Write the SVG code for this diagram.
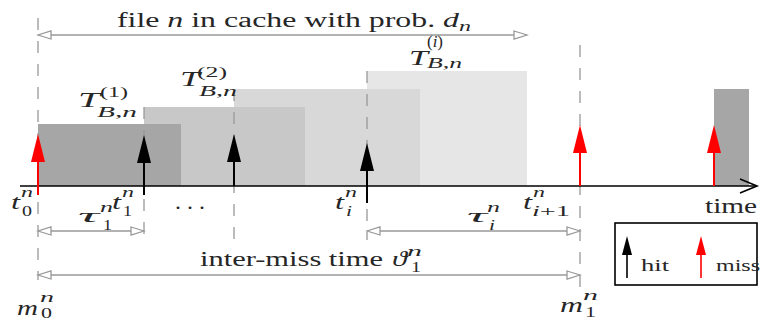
<svg xmlns="http://www.w3.org/2000/svg" width="760" height="324" viewBox="0 0 760 324">
<style>
.t { font-family: "Liberation Serif", "DejaVu Serif", serif; fill: #262626; }
.it { font-style: italic; }
.dash { stroke: #999; stroke-width: 1.3; stroke-dasharray: 12 11; fill: none; }
.dim { stroke: #999; stroke-width: 1.6; fill: none; marker-start: url(#open); marker-end: url(#open); }
.ak { stroke: #000; stroke-width: 2; marker-end: url(#hk); }
.ar { stroke: #f00; stroke-width: 2; marker-end: url(#hr); }
</style>
<defs>
<marker id="hk" markerUnits="userSpaceOnUse" viewBox="0 -7 28 14" refX="0" refY="0" markerWidth="28" markerHeight="14" orient="auto"><path d="M0,-7 L28,0 L0,7 z" fill="#000"/></marker>
<marker id="hr" markerUnits="userSpaceOnUse" viewBox="0 -7 28 14" refX="0" refY="0" markerWidth="28" markerHeight="14" orient="auto"><path d="M0,-7 L28,0 L0,7 z" fill="#f00"/></marker>
<marker id="hks" markerUnits="userSpaceOnUse" viewBox="0 -5 19 10" refX="0" refY="0" markerWidth="19" markerHeight="10" orient="auto"><path d="M0,-5 L19,0 L0,5 z" fill="#000"/></marker>
<marker id="hrs" markerUnits="userSpaceOnUse" viewBox="0 -5 19 10" refX="0" refY="0" markerWidth="19" markerHeight="10" orient="auto"><path d="M0,-5 L19,0 L0,5 z" fill="#f00"/></marker>
<marker id="open" markerUnits="userSpaceOnUse" viewBox="-2 -6 17 12" refX="13" refY="0" markerWidth="17" markerHeight="12" orient="auto-start-reverse"><path d="M0,-4 L13,0 L0,4 z" fill="#fff" stroke="#999" stroke-width="1.3"/></marker>
</defs>

<g id="blocks">
<rect id="T4" x="367" y="71" width="160" height="115" fill="#e6e6e6"/>
<rect id="T3" x="234" y="89" width="186" height="97" fill="#d8d8d8"/>
<rect id="T2" x="144" y="107" width="161" height="79" fill="#c8c8c8"/>
<rect id="T1" x="38" y="124" width="143" height="62" fill="#a6a6a6"/>
<rect id="Tnext" x="714" y="89" width="35" height="97" fill="#a6a6a6"/>
</g>

<g id="guides">
<line class="dash" x1="38" y1="18" x2="38" y2="280"/>
<line class="dash" x1="144" y1="107" x2="144" y2="245"/>
<line class="dash" x1="234" y1="89" x2="234" y2="242"/>
<line class="dash" x1="367" y1="71" x2="367" y2="240"/>
<line class="dash" x1="580" y1="45" x2="580" y2="298"/>
</g>

<g id="axis">
<line x1="20" y1="186" x2="757" y2="186" stroke="#000" stroke-width="1.6"/>
<polyline points="740,179 757,186 740,193" fill="none" stroke="#000" stroke-width="1.6"/>
</g>

<g id="connectors">
<line class="ar" x1="38" y1="195" x2="38" y2="162"/>
<line class="ak" x1="144" y1="195" x2="144" y2="163"/>
<line class="ak" x1="234" y1="186" x2="234" y2="162"/>
<line class="ak" x1="367" y1="203" x2="367" y2="171"/>
<line class="ar" x1="580" y1="186" x2="580" y2="153"/>
<line class="ar" x1="714" y1="186" x2="714" y2="153"/>
<line class="dim" x1="38" y1="35" x2="527" y2="35"/>
<line class="dim" x1="38" y1="231" x2="144" y2="231"/>
<line class="dim" x1="367" y1="231" x2="580" y2="231"/>
<line class="dim" x1="38" y1="275" x2="580" y2="275"/>
</g>

<g id="labels">
<text class="t" x="117" y="27" font-size="20" textLength="342" lengthAdjust="spacingAndGlyphs">file <tspan class="it">n</tspan> in cache with prob. <tspan class="it">d</tspan></text>
<text class="t it" x="459" y="31" font-size="14" textLength="12" lengthAdjust="spacingAndGlyphs">n</text>

<text class="t it" x="78" y="107" font-size="22" textLength="22" lengthAdjust="spacingAndGlyphs">T</text>
<text class="t" x="100" y="97" font-size="15" textLength="28" lengthAdjust="spacingAndGlyphs">(1)</text>
<text class="t it" x="97" y="117" font-size="15" textLength="40" lengthAdjust="spacingAndGlyphs">B<tspan font-style="normal">,</tspan>n</text>

<text class="t it" x="180" y="86" font-size="22" textLength="20" lengthAdjust="spacingAndGlyphs">T</text>
<text class="t" x="197" y="77" font-size="15" textLength="30" lengthAdjust="spacingAndGlyphs">(2)</text>
<text class="t it" x="199" y="96" font-size="15" textLength="38" lengthAdjust="spacingAndGlyphs">B<tspan font-style="normal">,</tspan>n</text>

<text class="t it" x="409" y="65" font-size="22" textLength="19" lengthAdjust="spacingAndGlyphs">T</text>
<text class="t" x="427" y="47" font-size="17" textLength="16" lengthAdjust="spacingAndGlyphs">(<tspan font-style="italic">i</tspan>)</text>
<text class="t it" x="427" y="68" font-size="15" textLength="35" lengthAdjust="spacingAndGlyphs">B<tspan font-style="normal">,</tspan>n</text>

<text class="t it" x="11" y="209" font-size="20" textLength="9" lengthAdjust="spacingAndGlyphs">t</text>
<text class="t it" x="21" y="197" font-size="14" textLength="12" lengthAdjust="spacingAndGlyphs">n</text>
<text class="t" x="22" y="216" font-size="14" textLength="10" lengthAdjust="spacingAndGlyphs">0</text>

<text class="t it" x="112" y="209" font-size="20" textLength="9" lengthAdjust="spacingAndGlyphs">t</text>
<text class="t it" x="122" y="197" font-size="14" textLength="12" lengthAdjust="spacingAndGlyphs">n</text>
<text class="t" x="123" y="216" font-size="14" textLength="9" lengthAdjust="spacingAndGlyphs">1</text>

<text class="t" x="175" y="209" font-size="20" textLength="30" lengthAdjust="spacingAndGlyphs">. . .</text>

<text class="t it" x="335" y="209" font-size="20" textLength="9" lengthAdjust="spacingAndGlyphs">t</text>
<text class="t it" x="345" y="197" font-size="14" textLength="12" lengthAdjust="spacingAndGlyphs">n</text>
<text class="t it" x="346" y="216" font-size="14" textLength="6" lengthAdjust="spacingAndGlyphs">i</text>

<text class="t it" x="523" y="209" font-size="20" textLength="9" lengthAdjust="spacingAndGlyphs">t</text>
<text class="t it" x="533" y="197" font-size="14" textLength="12" lengthAdjust="spacingAndGlyphs">n</text>
<text class="t it" x="532" y="216" font-size="14" textLength="38" lengthAdjust="spacingAndGlyphs">i<tspan font-style="normal">+1</tspan></text>

<text class="t it" x="78" y="222" font-size="19" textLength="21" lengthAdjust="spacingAndGlyphs">τ</text>
<text class="t it" x="100" y="212" font-size="14" textLength="13" lengthAdjust="spacingAndGlyphs">n</text>
<text class="t" x="103" y="230" font-size="14" textLength="9" lengthAdjust="spacingAndGlyphs">1</text>

<text class="t it" x="467" y="222" font-size="19" textLength="20" lengthAdjust="spacingAndGlyphs">τ</text>
<text class="t it" x="487" y="212" font-size="14" textLength="13" lengthAdjust="spacingAndGlyphs">n</text>
<text class="t it" x="489" y="230" font-size="14" textLength="6" lengthAdjust="spacingAndGlyphs">i</text>

<text class="t" x="200" y="266" font-size="20" textLength="183" lengthAdjust="spacingAndGlyphs">inter-miss time</text>
<text class="t it" x="392" y="266" font-size="20" textLength="15" lengthAdjust="spacingAndGlyphs">ϑ</text>
<text class="t it" x="407" y="256" font-size="14" textLength="15" lengthAdjust="spacingAndGlyphs">n</text>
<text class="t" x="411" y="272" font-size="14" textLength="10" lengthAdjust="spacingAndGlyphs">1</text>

<text class="t it" x="17" y="315" font-size="20" textLength="21" lengthAdjust="spacingAndGlyphs">m</text>
<text class="t it" x="40" y="302" font-size="14" textLength="14" lengthAdjust="spacingAndGlyphs">n</text>
<text class="t" x="41" y="318" font-size="14" textLength="11" lengthAdjust="spacingAndGlyphs">0</text>

<text class="t it" x="560" y="312" font-size="20" textLength="23" lengthAdjust="spacingAndGlyphs">m</text>
<text class="t it" x="583" y="300" font-size="14" textLength="15" lengthAdjust="spacingAndGlyphs">n</text>
<text class="t" x="585" y="317" font-size="14" textLength="11" lengthAdjust="spacingAndGlyphs">1</text>

<text class="t" x="705" y="213" font-size="20" textLength="52" lengthAdjust="spacingAndGlyphs">time</text>
</g>

<g id="legend">
<rect x="615" y="223" width="142" height="62" fill="none" stroke="#000" stroke-width="1.6"/>
<line stroke="#000" stroke-width="1.6" marker-end="url(#hks)" x1="627" y1="278" x2="627" y2="255"/>
<text class="t" x="641" y="271" font-size="16" textLength="28" lengthAdjust="spacingAndGlyphs">hit</text>
<line stroke="#f00" stroke-width="1.6" marker-end="url(#hrs)" x1="701" y1="278" x2="701" y2="255"/>
<text class="t" x="716" y="271" font-size="16" textLength="44" lengthAdjust="spacingAndGlyphs">miss</text>
</g>
</svg>
